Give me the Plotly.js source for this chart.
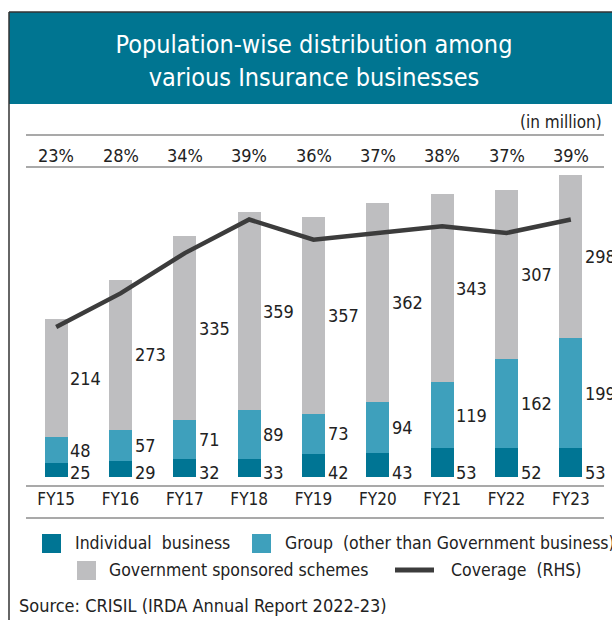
<!DOCTYPE html>
<html>
<head>
<meta charset="utf-8">
<script src="https://cdn.plot.ly/plotly-3.0.1.min.js"></script>
<style>html,body{margin:0;padding:0;background:#fff;}#chart{width:612px;height:620px;}</style>
</head>
<body>
<div id="chart"></div>
<script>
// ---- data ----
const years = ["FY15","FY16","FY17","FY18","FY19","FY20","FY21","FY22","FY23"];
const individual = [25,29,32,33,42,43,53,52,53];
const group = [48,57,71,89,73,94,119,162,199];
const government = [214,273,335,359,357,362,343,307,298];
const coverage = [23,28,34,39,36,37,38,37,39];
const seriesNames = ["Individual  business","Group  (other than Government business)","Government sponsored schemes","Coverage  (RHS)"];
const titleText = "Population-wise distribution among<br>various Insurance businesses";
const unitText = "(in million)";
const sourceText = "Source: CRISIL (IRDA Annual Report 2022-23)";

// ---- style ----
const FONT = "'DejaVu Sans Condensed','DejaVu Sans',sans-serif";
const cInd = "rgb(0,117,148)", cGrp = "rgb(62,160,188)", cGov = "rgb(190,190,192)", cLine = "rgb(60,60,60)";
const band = "rgb(0,117,145)", rule = "rgb(140,140,140)", txt = "#222";
const W = 612, H = 620;
const M = {l:24, r:9, t:172, b:143};
const pw = W - M.l - M.r, ph = H - M.t - M.b;
const px = v => (v - M.l) / pw;
const py = v => (H - M.b - v) / ph;

const traces = [
  {type:"bar", x:years, y:individual, name:seriesNames[0], marker:{color:cInd}, width:0.357, hoverinfo:"skip"},
  {type:"bar", x:years, y:group, name:seriesNames[1], marker:{color:cGrp}, width:0.357, hoverinfo:"skip"},
  {type:"bar", x:years, y:government, name:seriesNames[2], marker:{color:cGov}, width:0.357, hoverinfo:"skip"},
  {type:"scatter", mode:"lines", x:years, y:coverage, yaxis:"y2", name:seriesNames[3], line:{color:cLine, width:4.5}, hoverinfo:"skip"}
];

const ann = [];
const lf = {family:FONT, size:18, color:txt};
years.forEach((yr, i) => {
  ann.push({x:yr, y:0, xref:"x", yref:"y", text:String(individual[i]), showarrow:false, xanchor:"left", yanchor:"middle", xshift:12, yshift:5, font:lf});
  ann.push({x:yr, y:individual[i] + group[i]/2, xref:"x", yref:"y", text:String(group[i]), showarrow:false, xanchor:"left", yanchor:"middle", xshift:12, font:lf});
  ann.push({x:yr, y:individual[i] + group[i] + government[i]/2, xref:"x", yref:"y", text:String(government[i]), showarrow:false, xanchor:"left", yanchor:"middle", xshift:12, font:lf});
  ann.push({x:yr, y:py(155), xref:"x", yref:"paper", text:coverage[i] + "%", showarrow:false, xanchor:"center", yanchor:"middle", font:lf});
});
ann.push({x:px(604), y:py(122), xref:"paper", yref:"paper", text:unitText, showarrow:false, xanchor:"right", yanchor:"middle", font:{family:FONT, size:17, color:txt}});
ann.push({x:px(17), y:py(605), xref:"paper", yref:"paper", text:sourceText, showarrow:false, xanchor:"left", yanchor:"middle", font:{family:FONT, size:18, color:txt}});
// legend
const legFont = {family:FONT, size:17.5, color:txt};
const legItems = [
  {sx:[42,61], sy:[534,553], color:cInd, tx:73, ty:543, name:seriesNames[0]},
  {sx:[252,271], sy:[534,553], color:cGrp, tx:283, ty:543, name:seriesNames[1]},
  {sx:[77,96], sy:[561,580], color:cGov, tx:107, ty:570, name:seriesNames[2]}
];
const shapes = [];
shapes.push({type:"rect", xref:"paper", yref:"paper", x0:px(9), x1:px(612), y0:py(12), y1:py(104), fillcolor:band, line:{width:0}, layer:"below"});
shapes.push({type:"line", xref:"paper", yref:"paper", x0:px(9), x1:px(612), y0:py(12), y1:py(12), line:{color:"#333", width:1.5}});
shapes.push({type:"line", xref:"paper", yref:"paper", x0:px(9), x1:px(9), y0:py(12), y1:py(620), line:{color:"#333", width:1.5}});
[135,167,486,518].forEach(v => shapes.push({type:"line", xref:"paper", yref:"paper", x0:px(26), x1:px(604), y0:py(v), y1:py(v), line:{color:rule, width:1.5}}));
legItems.forEach(it => {
  shapes.push({type:"rect", xref:"paper", yref:"paper", x0:px(it.sx[0]), x1:px(it.sx[1]), y0:py(it.sy[0]), y1:py(it.sy[1]), fillcolor:it.color, line:{width:0}});
  ann.push({x:px(it.tx), y:py(it.ty), xref:"paper", yref:"paper", text:it.name, showarrow:false, xanchor:"left", yanchor:"middle", font:legFont});
});
shapes.push({type:"line", xref:"paper", yref:"paper", x0:px(395), x1:px(434), y0:py(570), y1:py(570), line:{color:cLine, width:5}});
ann.push({x:px(449), y:py(570), xref:"paper", yref:"paper", text:seriesNames[3], showarrow:false, xanchor:"left", yanchor:"middle", font:legFont});

const layout = {
  width:W, height:H,
  margin:M,
  paper_bgcolor:"#fff", plot_bgcolor:"rgba(0,0,0,0)",
  barmode:"stack",
  showlegend:false,
  title:{text:titleText, x:314/W, xanchor:"center", y:1-53/H, yanchor:"middle", yref:"container", font:{family:FONT, size:25, color:"#fff"}},
  xaxis:{type:"category", range:[-0.5, 8.5], showgrid:false, zeroline:false, showline:false, ticks:"", tickfont:{family:FONT, size:17, color:txt}, ticklabelstandoff:10, fixedrange:true},
  yaxis:{range:[0, ph/0.55], visible:false, showgrid:false, zeroline:false, fixedrange:true},
  yaxis2:{overlaying:"y", side:"right", range:[23 - (H - M.b - 327)/6.72, 23 + (327 - M.t)/6.72], visible:false, showgrid:false, zeroline:false, fixedrange:true},
  shapes:shapes,
  annotations:ann,
  font:{family:FONT}
};
Plotly.newPlot("chart", traces, layout, {displayModeBar:false, staticPlot:true});
</script>
</body>
</html>
